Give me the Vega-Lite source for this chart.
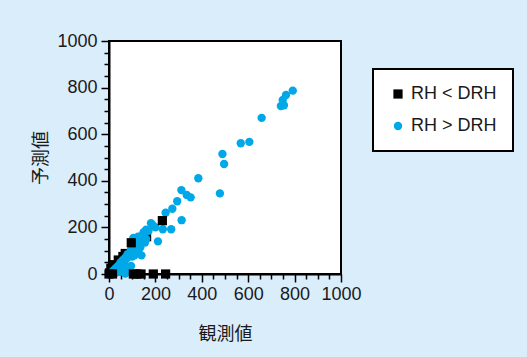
{
  "$schema": "https://vega.github.io/schema/vega-lite/v6.json",
  "width": 232,
  "height": 233,
  "autosize": {"type": "none"},
  "padding": {"left": 109, "top": 41, "right": 186, "bottom": 83},
  "background": "#daedfb",
  "config": {
    "view": {"fill": "white", "stroke": "black", "strokeWidth": 2},
    "font": "Liberation Sans"
  },
  "data": {
    "values": [
      {"type": "RH < DRH", "obs": 3, "pred": 5},
      {"type": "RH < DRH", "obs": 8, "pred": 25},
      {"type": "RH < DRH", "obs": 20, "pred": 40},
      {"type": "RH < DRH", "obs": 40, "pred": 60},
      {"type": "RH < DRH", "obs": 60, "pred": 75},
      {"type": "RH < DRH", "obs": 70, "pred": 88},
      {"type": "RH < DRH", "obs": 162, "pred": 160},
      {"type": "RH > DRH", "obs": 792, "pred": 787},
      {"type": "RH > DRH", "obs": 763, "pred": 768},
      {"type": "RH > DRH", "obs": 749, "pred": 747},
      {"type": "RH > DRH", "obs": 741, "pred": 721},
      {"type": "RH > DRH", "obs": 754, "pred": 724},
      {"type": "RH > DRH", "obs": 658, "pred": 670},
      {"type": "RH > DRH", "obs": 568, "pred": 561},
      {"type": "RH > DRH", "obs": 605, "pred": 567},
      {"type": "RH > DRH", "obs": 489, "pred": 515},
      {"type": "RH > DRH", "obs": 496, "pred": 472},
      {"type": "RH > DRH", "obs": 385, "pred": 411},
      {"type": "RH > DRH", "obs": 478, "pred": 346},
      {"type": "RH > DRH", "obs": 312, "pred": 360},
      {"type": "RH > DRH", "obs": 335, "pred": 339},
      {"type": "RH > DRH", "obs": 352, "pred": 329},
      {"type": "RH > DRH", "obs": 294, "pred": 312},
      {"type": "RH > DRH", "obs": 273, "pred": 280},
      {"type": "RH > DRH", "obs": 244, "pred": 263},
      {"type": "RH > DRH", "obs": 313, "pred": 231},
      {"type": "RH > DRH", "obs": 268, "pred": 192},
      {"type": "RH > DRH", "obs": 232, "pred": 192},
      {"type": "RH > DRH", "obs": 211, "pred": 140},
      {"type": "RH > DRH", "obs": 181, "pred": 218},
      {"type": "RH > DRH", "obs": 190, "pred": 208},
      {"type": "RH > DRH", "obs": 200, "pred": 200},
      {"type": "RH > DRH", "obs": 170, "pred": 185},
      {"type": "RH > DRH", "obs": 160, "pred": 190},
      {"type": "RH > DRH", "obs": 150, "pred": 180},
      {"type": "RH > DRH", "obs": 145, "pred": 170},
      {"type": "RH > DRH", "obs": 140, "pred": 155},
      {"type": "RH > DRH", "obs": 125, "pred": 160},
      {"type": "RH > DRH", "obs": 105, "pred": 155},
      {"type": "RH > DRH", "obs": 115, "pred": 150},
      {"type": "RH > DRH", "obs": 120, "pred": 135},
      {"type": "RH > DRH", "obs": 110, "pred": 120},
      {"type": "RH > DRH", "obs": 130, "pred": 125},
      {"type": "RH > DRH", "obs": 100, "pred": 120},
      {"type": "RH > DRH", "obs": 95, "pred": 105},
      {"type": "RH > DRH", "obs": 105, "pred": 95},
      {"type": "RH > DRH", "obs": 120, "pred": 100},
      {"type": "RH > DRH", "obs": 135, "pred": 115},
      {"type": "RH > DRH", "obs": 140, "pred": 80},
      {"type": "RH > DRH", "obs": 90, "pred": 90},
      {"type": "RH > DRH", "obs": 85, "pred": 75},
      {"type": "RH > DRH", "obs": 80, "pred": 85},
      {"type": "RH > DRH", "obs": 75, "pred": 65},
      {"type": "RH > DRH", "obs": 70, "pred": 70},
      {"type": "RH > DRH", "obs": 65, "pred": 55},
      {"type": "RH > DRH", "obs": 60, "pred": 60},
      {"type": "RH > DRH", "obs": 55, "pred": 45},
      {"type": "RH > DRH", "obs": 50, "pred": 50},
      {"type": "RH > DRH", "obs": 45, "pred": 40},
      {"type": "RH > DRH", "obs": 40, "pred": 35},
      {"type": "RH > DRH", "obs": 35, "pred": 30},
      {"type": "RH > DRH", "obs": 30, "pred": 25},
      {"type": "RH > DRH", "obs": 25, "pred": 20},
      {"type": "RH > DRH", "obs": 20, "pred": 15},
      {"type": "RH > DRH", "obs": 15, "pred": 10},
      {"type": "RH > DRH", "obs": 10, "pred": 5},
      {"type": "RH > DRH", "obs": 8, "pred": 0},
      {"type": "RH > DRH", "obs": 30, "pred": 5},
      {"type": "RH > DRH", "obs": 50, "pred": 10},
      {"type": "RH > DRH", "obs": 70, "pred": 2},
      {"type": "RH > DRH", "obs": 80, "pred": 30},
      {"type": "RH > DRH", "obs": 95, "pred": 35},
      {"type": "RH > DRH", "obs": 60, "pred": 20},
      {"type": "RH > DRH", "obs": 40, "pred": 15},
      {"type": "RH > DRH", "obs": 100, "pred": 75},
      {"type": "RH > DRH", "obs": 110, "pred": 80},
      {"type": "RH > DRH", "obs": 125, "pred": 95},
      {"type": "RH > DRH", "obs": 155, "pred": 135},
      {"type": "RH > DRH", "obs": 160, "pred": 150},
      {"type": "RH < DRH", "obs": 96, "pred": 134},
      {"type": "RH < DRH", "obs": 230, "pred": 229},
      {"type": "RH < DRH", "obs": 0, "pred": 0},
      {"type": "RH < DRH", "obs": 15, "pred": 0},
      {"type": "RH < DRH", "obs": 105, "pred": 0},
      {"type": "RH < DRH", "obs": 120, "pred": 0},
      {"type": "RH < DRH", "obs": 138, "pred": 0},
      {"type": "RH < DRH", "obs": 191, "pred": 0},
      {"type": "RH < DRH", "obs": 244, "pred": 0}
    ]
  },
  "mark": {"type": "point", "filled": true, "opacity": 1, "strokeWidth": 0, "clip": false},
  "encoding": {
    "x": {
      "field": "obs", "type": "quantitative",
      "scale": {"domain": [0, 1000], "nice": false, "zero": false},
      "axis": {
        "title": "観測値",
        "titleFont": "Noto Sans CJK JP", "titleFontSize": 18, "titleFontWeight": "normal", "titleColor": "#1a1a1a",
        "titlePadding": 22,
        "values": [0,50,100,150,200,250,300,350,400,450,500,550,600,650,700,750,800,850,900,950,1000],
        "format": "d",
        "labelExpr": "datum.value % 200 === 0 ? datum.label : ''",
        "labelOverlap": false, "labelFlush": false,
        "labelFontSize": 18, "labelColor": "#1a1a1a", "labelPadding": 3,
        "tickSize": {"condition": {"test": "datum.value % 200 === 0", "value": 8}, "value": 5},
        "tickColor": "black", "tickWidth": 1.5,
        "domainColor": "black", "domainWidth": 2,
        "grid": false
      }
    },
    "y": {
      "field": "pred", "type": "quantitative",
      "scale": {"domain": [0, 1000], "nice": false, "zero": false},
      "axis": {
        "title": "予測値",
        "titleFont": "Noto Sans CJK JP", "titleFontSize": 18, "titleFontWeight": "normal", "titleColor": "#1a1a1a",
        "titlePadding": 6,
        "values": [0,50,100,150,200,250,300,350,400,450,500,550,600,650,700,750,800,850,900,950,1000],
        "format": "d",
        "labelExpr": "datum.value % 200 === 0 ? datum.label : ''",
        "labelOverlap": false, "labelFlush": false,
        "labelFontSize": 18, "labelColor": "#1a1a1a", "labelPadding": 4,
        "tickSize": {"condition": {"test": "datum.value % 200 === 0", "value": 8}, "value": 5},
        "tickColor": "black", "tickWidth": 1.5,
        "domainColor": "black", "domainWidth": 2,
        "grid": false
      }
    },
    "color": {
      "field": "type", "type": "nominal",
      "scale": {"domain": ["RH < DRH", "RH > DRH"], "range": ["black", "#00a8e8"]},
      "legend": {
        "title": null,
        "orient": "none", "legendX": 264, "legendY": 28,
        "fillColor": "white", "strokeColor": "black",
        "padding": 16, "rowPadding": 14,
        "labelFontSize": 18, "labelColor": "#1a1a1a", "labelOffset": 4, "labelLimit": 200,
        "symbolOpacity": 1,
        "encode": {"legend": {"update": {"strokeWidth": {"value": 2}}}}
      }
    },
    "shape": {
      "field": "type", "type": "nominal",
      "scale": {"domain": ["RH < DRH", "RH > DRH"], "range": ["square", "circle"]}
    },
    "size": {
      "field": "type", "type": "nominal",
      "scale": {"type": "ordinal", "domain": ["RH < DRH", "RH > DRH"], "range": [85, 70]}
    }
  }
}
